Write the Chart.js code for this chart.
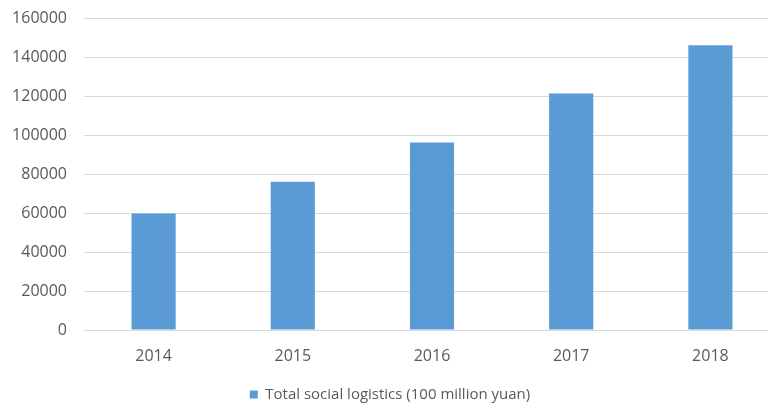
<!DOCTYPE html>
<html>
<head>
<meta charset="utf-8">
<script src="https://cdn.jsdelivr.net/npm/chart.js@4/dist/chart.umd.min.js"></script>
<style>
    html,body{margin:0;padding:0;background:#fff;overflow:hidden;}
    #wrap{width:780px;height:412px;position:relative;}
</style>
</head>
<body>
<div id="wrap"><canvas id="logChart"></canvas></div>
<script>
// data
var years = ['2014', '2015', '2016', '2017', '2018'];
var totalLogistics = [59700, 76000, 96200, 121300, 146000];
var seriesName = 'Total social logistics (100 million yuan)';
var yMin = 0, yMax = 160000, yStep = 20000;

;(function(){
    var grey = '#595959';
    var font = "'Open Sans', sans-serif";

    new Chart(document.getElementById('logChart'), {
        type: 'bar',
        data: {
            labels: years,
            datasets: [{
                label: seriesName,
                data: totalLogistics,
                backgroundColor: '#5b9bd5',
                borderWidth: 0,
                barPercentage: 0.317,
                categoryPercentage: 1
            }]
        },
        options: {
            responsive: true,
            maintainAspectRatio: false,
            animation: false,
            layout: {padding: {top: 18, right: 0, bottom: 0, left: 0}},
            plugins: {
                tooltip: {enabled: false},
                legend: {
                    position: 'bottom',
                    labels: {
                        boxWidth: 8,
                        boxHeight: 8,
                        color: grey,
                        padding: 5,
                        font: {family: font, size: 15}
                    }
                }
            },
            scales: {
                x: {
                    afterFit: function(scale){ scale.height = 52; },
                    grid: {display: false},
                    border: {display: false},
                    ticks: {color: grey, padding: 9, font: {family: font, size: 16}}
                },
                y: {
                    min: yMin,
                    max: yMax,
                    afterFit: function(scale){
                        scale.width = 84;
                        scale.paddingTop = 0;
                        scale.paddingBottom = 0;
                    },
                    grid: {color: '#d9d9d9', drawTicks: false},
                    border: {display: false},
                    ticks: {
                        stepSize: yStep,
                        color: grey,
                        padding: 17,
                        font: {family: font, size: 16},
                        callback: function(v){ return String(v); }
                    }
                }
            }
        }
    });
})();
</script>
</body>
</html>
